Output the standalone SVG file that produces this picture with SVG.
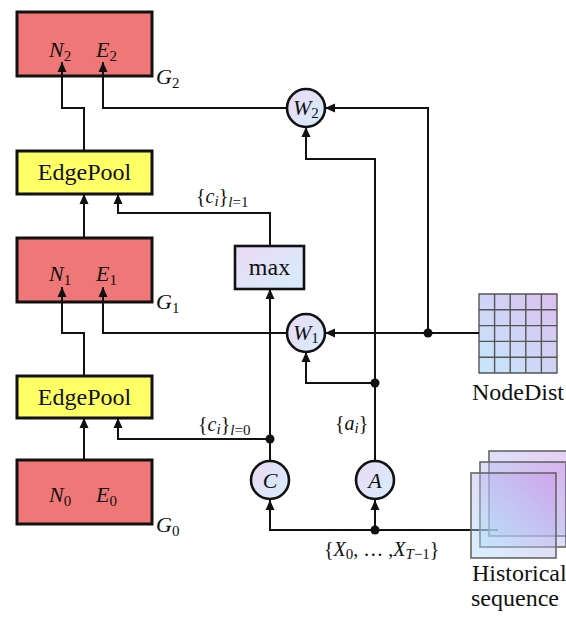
<svg xmlns="http://www.w3.org/2000/svg" width="566" height="619" viewBox="0 0 566 619" font-family="'Liberation Serif', 'Times New Roman', 'DejaVu Serif', serif">
<style>
text{font-family:'Liberation Serif','Times New Roman','DejaVu Serif',serif;fill:#111}
.lbl{font-size:24px}
.m{font-size:22px;font-style:italic}
.sub{font-size:15px;font-style:normal}
.sm{font-size:20px}
.g{fill:#EF7777;stroke:#111;stroke-width:3}
.y{fill:#FFFF66;stroke:#111;stroke-width:3}
.op{fill:url(#opg);stroke:#111;stroke-width:2.6}
.c{fill:none;stroke:#111;stroke-width:2}
.dot{fill:#111}
.grid{stroke:#555;stroke-width:1.4;fill:none}
.sq{fill:url(#sqg);fill-opacity:0.45;stroke:#666;stroke-width:1.6}
</style>
<defs>
<linearGradient id="opg" x1="0" y1="0" x2="1" y2="1">
<stop offset="0" stop-color="#EBD9F5"/>
<stop offset="1" stop-color="#D6EEFB"/>
</linearGradient>
<linearGradient id="gridg" x1="0" y1="1" x2="1" y2="0">
<stop offset="0" stop-color="#C4E8FB"/>
<stop offset="1" stop-color="#DCC0F0"/>
</linearGradient>
<linearGradient id="sqg" x1="0" y1="1" x2="1" y2="0">
<stop offset="0" stop-color="#A8E0F8"/>
<stop offset="1" stop-color="#C98EE6"/>
</linearGradient>
<marker id="ah" markerUnits="userSpaceOnUse" markerWidth="10" markerHeight="10" refX="10" refY="5" orient="auto" viewBox="0 0 10 10">
<path d="M0,0.5 L10,5 L0,9.5 z" fill="#111"/>
</marker>
</defs>

<g id="G2">
<rect class="g" x="17" y="12" width="135" height="64"/>
<text class="m" x="49" y="57">N<tspan class="sub" dy="4">2</tspan></text>
<text class="m" x="96" y="57">E<tspan class="sub" dy="4">2</tspan></text>
<text class="m" x="156" y="84">G<tspan class="sub" dy="4">2</tspan></text>
</g>

<g id="EdgePool1">
<rect class="y" x="17" y="151" width="135" height="43"/>
<text class="lbl" x="84.5" y="180" text-anchor="middle">EdgePool</text>
</g>

<g id="G1">
<rect class="g" x="17" y="238" width="135" height="64"/>
<text class="m" x="49" y="281">N<tspan class="sub" dy="4">1</tspan></text>
<text class="m" x="96" y="281">E<tspan class="sub" dy="4">1</tspan></text>
<text class="m" x="156" y="309">G<tspan class="sub" dy="4">1</tspan></text>
</g>

<g id="EdgePool0">
<rect class="y" x="17" y="376" width="135" height="42"/>
<text class="lbl" x="84.5" y="405" text-anchor="middle">EdgePool</text>
</g>

<g id="G0">
<rect class="g" x="17" y="460" width="135" height="64"/>
<text class="m" x="49" y="502">N<tspan class="sub" dy="4">0</tspan></text>
<text class="m" x="96" y="502">E<tspan class="sub" dy="4">0</tspan></text>
<text class="m" x="156" y="532">G<tspan class="sub" dy="4">0</tspan></text>
</g>

<g id="max">
<rect class="op" x="235" y="246" width="69" height="43"/>
<text class="lbl" x="269.5" y="275" text-anchor="middle">max</text>
</g>

<g id="W2">
<circle class="op" cx="306" cy="108" r="19"/>
<text class="m" x="293" y="115">W<tspan class="sub" dy="3">2</tspan></text>
</g>

<g id="W1">
<circle class="op" cx="306" cy="333" r="19"/>
<text class="m" x="293" y="340">W<tspan class="sub" dy="3">1</tspan></text>
</g>

<g id="C">
<circle class="op" cx="270" cy="480" r="19"/>
<text class="m" x="270" y="488" text-anchor="middle">C</text>
</g>

<g id="A">
<circle class="op" cx="375" cy="480" r="19"/>
<text class="m" x="375" y="488" text-anchor="middle">A</text>
</g>

<g id="NodeDist">
<rect x="479" y="294" width="78" height="79" fill="url(#gridg)"/>
<path class="grid" d="M479,294 H557 V373 H479 Z M494.6,294 V373 M510.2,294 V373 M525.8,294 V373 M541.4,294 V373 M479,309.8 H557 M479,325.6 H557 M479,341.4 H557 M479,357.2 H557"/>
<text class="lbl" x="472" y="400">NodeDist</text>
</g>

<g id="connectors">
<path class="c" d="M84,151 V108 H62 V62" marker-end="url(#ah)"/>
<path class="c" d="M287,108 H103 V62" marker-end="url(#ah)"/>
<path class="c" d="M428,333 V108 H325" marker-end="url(#ah)"/>
<path class="c" d="M375,383 V159 H306 V127" marker-end="url(#ah)"/>
<path class="c" d="M270,246 V213 H118 V194" marker-end="url(#ah)"/>
<path class="c" d="M84,238 V194" marker-end="url(#ah)"/>
<path class="c" d="M84,376 V333 H62 V287" marker-end="url(#ah)"/>
<path class="c" d="M287,333 H103 V287" marker-end="url(#ah)"/>
<path class="c" d="M479,333 H325" marker-end="url(#ah)"/>
<path class="c" d="M375,383 H306 V352" marker-end="url(#ah)"/>
<path class="c" d="M375,461 V383"/>
<path class="c" d="M270,461 V289" marker-end="url(#ah)"/>
<path class="c" d="M270,439 H118 V418" marker-end="url(#ah)"/>
<path class="c" d="M84,460 V418" marker-end="url(#ah)"/>
<path class="c" d="M498,530 H270 V500" marker-end="url(#ah)"/>
<path class="c" d="M375,530 V500" marker-end="url(#ah)"/>
<circle class="dot" cx="428" cy="333" r="4.5"/>
<circle class="dot" cx="375" cy="383" r="4.5"/>
<circle class="dot" cx="270" cy="439" r="4.5"/>
<circle class="dot" cx="375" cy="530" r="4.5"/>
<text class="sm" x="196" y="203">{<tspan font-style="italic">c</tspan><tspan font-style="italic" font-size="15" dy="3">i</tspan><tspan dy="-3">}</tspan><tspan font-size="15" dy="4"><tspan font-style="italic">l</tspan>=1</tspan></text>
<text class="sm" x="198" y="431">{<tspan font-style="italic">c</tspan><tspan font-style="italic" font-size="15" dy="3">i</tspan><tspan dy="-3">}</tspan><tspan font-size="15" dy="4"><tspan font-style="italic">l</tspan>=0</tspan></text>
<text class="sm" x="335" y="430">{<tspan font-style="italic">a</tspan><tspan font-style="italic" font-size="15" dy="3">i</tspan><tspan dy="-3">}</tspan></text>
<text class="sm" x="324" y="556">{<tspan font-style="italic">X</tspan><tspan font-size="15" dy="3">0</tspan><tspan dy="-3">, … ,</tspan><tspan font-style="italic">X</tspan><tspan font-size="15" dy="3"><tspan font-style="italic">T</tspan>−1</tspan><tspan dy="-3">}</tspan></text>
</g>

<g id="Historical">
<rect class="sq" x="489" y="451" width="90" height="85"/>
<rect class="sq" x="480" y="462" width="86" height="85"/>
<rect class="sq" x="471" y="473" width="85" height="85"/>
<text class="lbl" x="472" y="581">Historical</text>
<text class="lbl" x="471" y="606">sequence</text>
</g>
</svg>
